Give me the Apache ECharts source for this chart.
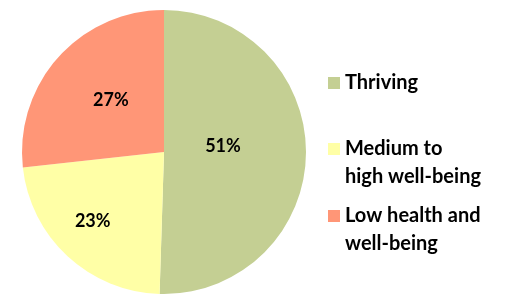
<!DOCTYPE html>
<html>
<head>
<meta charset="utf-8">
<script src="https://cdn.jsdelivr.net/npm/echarts@6/dist/echarts.min.js"></script>
<style>
  html, body { margin: 0; padding: 0; background: #fff; }
  #pie { width: 505px; height: 296px; }
</style>
</head>
<body>
<div id="pie"></div>
<script>
const names = ['Thriving', 'Medium to\nhigh well-being', 'Low health and\nwell-being'];
const values = [51, 23, 27]; // percent
const colors = ['#C4CF93', '#FFFFA6', '#FF9677'];
// nudges so labels sit where the original placed them
const labelOffsets = [[-15, -7], [-21, 15], [2, -2]];
const legendTops = [69, 107, 174];

const font = 'Lato, "Open Sans", sans-serif';

const legends = names.map((n, i) => ({
  data: [n],
  orient: 'vertical',
  left: 328,
  top: legendTops[i],
  padding: 0,
  icon: 'rect',
  itemWidth: 12,
  itemHeight: 12,
  itemGap: 6,
  selectedMode: false,
  // multi-line entries: blank first line keeps the swatch by the first text line
  formatter: name => (name.indexOf('\n') >= 0 ? '\n' + name : name),
  textStyle: {
    fontFamily: font,
    fontWeight: 'bold',
    fontSize: 20,
    lineHeight: 28,
    color: '#000'
  }
}));

const option = {
  animation: false,
  legend: legends,
  series: [
    {
      type: 'pie',
      center: [164, 152],
      radius: 142,
      startAngle: 90,
      clockwise: true,
      silent: true,
      label: {
        show: true,
        position: 'inside',
        formatter: '{c}%',
        fontFamily: font,
        fontWeight: 'bold',
        fontSize: 18,
        color: '#000'
      },
      labelLine: { show: false },
      itemStyle: { borderWidth: 0 },
      data: names.map((n, i) => ({
        name: n,
        value: values[i],
        itemStyle: { color: colors[i] },
        label: { offset: labelOffsets[i] }
      }))
    }
  ]
};

const chart = echarts.init(document.getElementById('pie'));
chart.setOption(option);
</script>
</body>
</html>
